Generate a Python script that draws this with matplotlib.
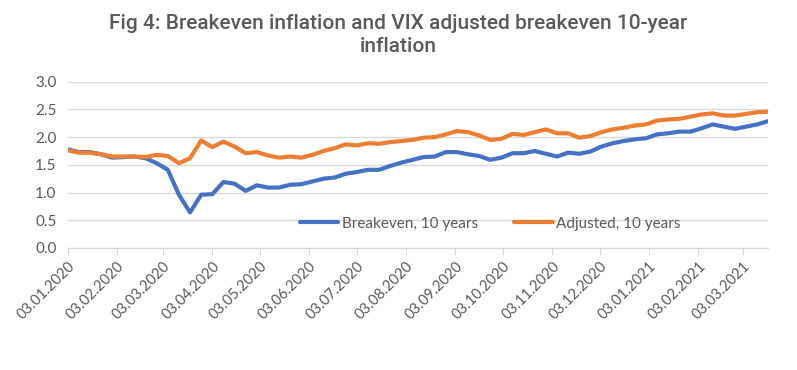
import matplotlib
matplotlib.use('Agg')
import matplotlib.pyplot as plt
import matplotlib.dates as mdates
import numpy as np
import pandas as pd


# Weekly observations, Fridays from 03.01.2020
START_DATE = '2020-01-03'
N_WEEKS = 64

BREAKEVEN = [
    1.78, 1.73, 1.73, 1.69, 1.63, 1.64, 1.65, 1.62, 1.53, 1.41,
    0.96, 0.64, 0.96, 0.97, 1.19, 1.16, 1.03, 1.13, 1.09, 1.09,
    1.14, 1.15, 1.20, 1.25, 1.27, 1.34, 1.37, 1.41, 1.41, 1.48,
    1.54, 1.59, 1.64, 1.65, 1.73, 1.73, 1.69, 1.66, 1.59, 1.63,
    1.71, 1.71, 1.75, 1.70, 1.65, 1.72, 1.70, 1.74, 1.83, 1.89,
    1.93, 1.96, 1.98, 2.05, 2.07, 2.10, 2.10, 2.16, 2.23, 2.19,
    2.15, 2.19, 2.23, 2.29,
]

ADJUSTED = [
    1.76, 1.72, 1.72, 1.69, 1.65, 1.65, 1.65, 1.64, 1.68, 1.66,
    1.53, 1.62, 1.94, 1.82, 1.92, 1.83, 1.71, 1.73, 1.67, 1.63,
    1.65, 1.63, 1.68, 1.75, 1.80, 1.87, 1.85, 1.89, 1.88, 1.91,
    1.93, 1.95, 1.99, 2.00, 2.05, 2.11, 2.09, 2.03, 1.95, 1.97,
    2.06, 2.04, 2.09, 2.14, 2.07, 2.07, 1.99, 2.02, 2.09, 2.14,
    2.17, 2.21, 2.23, 2.30, 2.32, 2.33, 2.37, 2.41, 2.43, 2.39,
    2.39, 2.42, 2.45, 2.46,
]

SERIES_NAMES = ['Breakeven, 10 years', 'Adjusted, 10 years']
TITLE = 'Fig 4: Breakeven inflation and VIX adjusted breakeven 10-year\ninflation'

TEXT_COLOR = '#595959'
GRID_COLOR = '#D9D9D9'


def main():
    dates = pd.date_range(START_DATE, periods=N_WEEKS, freq='7D')
    # Monthly ticks on the 3rd of each month
    tick_dates = pd.date_range('2020-01-01', '2021-03-01', freq='MS') + pd.Timedelta(days=2)

    plt.rcParams['font.family'] = ['Lato', 'DejaVu Sans']

    fig = plt.figure(figsize=(7.97, 3.70), dpi=100)
    ax = fig.add_axes([0.085, 0.33, 0.879, 0.449])

    ax.plot(dates, BREAKEVEN, color='#4472C4', lw=3.0, label=SERIES_NAMES[0],
            solid_capstyle='round', solid_joinstyle='round')
    ax.plot(dates, ADJUSTED, color='#ED7D31', lw=3.0, label=SERIES_NAMES[1],
            solid_capstyle='round', solid_joinstyle='round')

    ax.set_ylim(0, 3.0)
    ax.set_yticks(np.arange(0, 3.01, 0.5))
    ax.yaxis.set_major_formatter(plt.FormatStrFormatter('%.1f'))
    ax.set_xlim(dates[0], dates[-1])
    ax.set_xticks(tick_dates)
    ax.xaxis.set_major_formatter(mdates.DateFormatter('%d.%m.%Y'))

    ax.grid(axis='y', color=GRID_COLOR, lw=1.0)
    ax.set_axisbelow(True)
    for side in ['top', 'right', 'left']:
        ax.spines[side].set_visible(False)
    ax.spines['bottom'].set_color(GRID_COLOR)

    ax.tick_params(axis='y', length=0, pad=8, labelsize=11, labelcolor=TEXT_COLOR)
    ax.tick_params(axis='x', length=5, color=GRID_COLOR, pad=3,
                   labelsize=10.5, labelcolor=TEXT_COLOR)
    for lbl in ax.get_xticklabels():
        lbl.set_rotation(45)
        lbl.set_ha('right')
        lbl.set_rotation_mode('anchor')

    ax.legend(loc='center', bbox_to_anchor=(0.603, 0.145), ncol=2, frameon=False,
              handlelength=2.5, handletextpad=0.2, columnspacing=2.4,
              fontsize=11, labelcolor=TEXT_COLOR)

    fig.text(0.5, 0.905, TITLE, ha='center', va='center', fontsize=15,
             fontweight='medium', color=TEXT_COLOR, linespacing=1.3,
             family=['Roboto', 'DejaVu Sans'])

    fig.savefig('out.png', dpi=100)


if __name__ == '__main__':
    main()
